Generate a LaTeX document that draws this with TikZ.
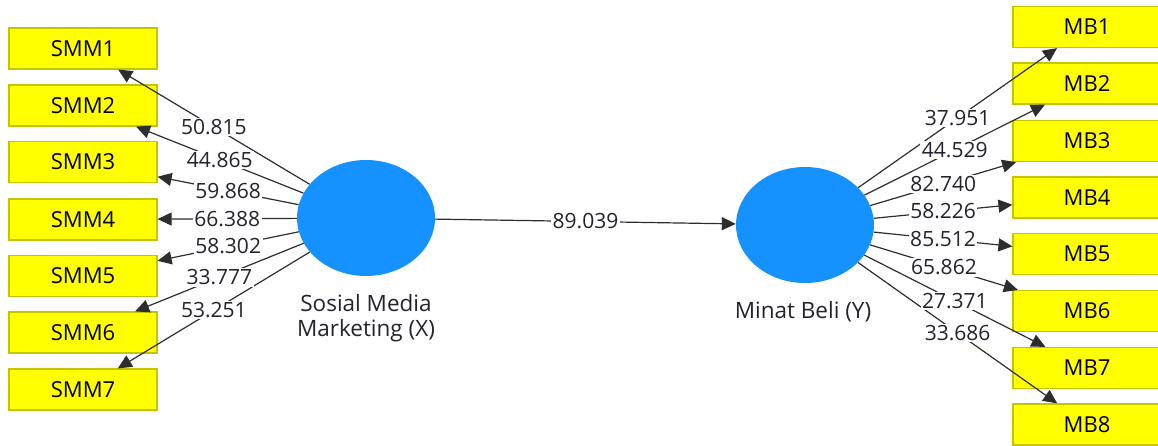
\documentclass[tikz,border=0pt]{standalone}
\usepackage{fontspec}
\setmainfont{Open Sans}
\usetikzlibrary{arrows.meta,shapes.geometric}
\definecolor{ellblue}{RGB}{22,146,255}
\definecolor{boxyellow}{RGB}{255,255,0}
\definecolor{boxedge}{RGB}{196,196,0}
\definecolor{linegray}{RGB}{45,45,45}
\definecolor{txtgray}{RGB}{35,35,45}
\begin{document}
\begin{tikzpicture}[x=1pt,y=-1pt,
  ind/.style={draw=boxedge, fill=boxyellow, line width=1.2pt, minimum width=148pt,
    minimum height=41pt, inner sep=0pt, font=\fontsize{22}{26}\selectfont},
  lv/.style={ellipse, fill=ellblue, draw=none, minimum width=138pt, minimum height=116pt, inner sep=0pt},
  link/.style={draw=linegray, line width=1.2pt, -{Triangle[length=14pt,width=13pt]}},
  num/.style={fill=white, inner sep=1.5pt, font=\fontsize{21}{25}\selectfont, text=txtgray},
  lvlabel/.style={align=center, text=txtgray, font=\fontsize{22.5}{25}\selectfont}
]
\useasboundingbox (0,0) rectangle (1158,445);

% left indicators
\node[ind] (s1) at (83,48.5) {SMM1};
\node[ind] (s2) at (83,105.5) {SMM2};
\node[ind] (s3) at (83,162) {SMM3};
\node[ind] (s4) at (83,219.5) {SMM4};
\node[ind] (s5) at (83,276) {SMM5};
\node[ind] (s6) at (83,332.5) {SMM6};
\node[ind] (s7) at (83,389.5) {SMM7};

% right indicators
\node[ind] (b1) at (1087,27) {MB1};
\node[ind] (b2) at (1087,83.5) {MB2};
\node[ind] (b3) at (1087,141) {MB3};
\node[ind] (b4) at (1087,197.5) {MB4};
\node[ind] (b5) at (1087,254) {MB5};
\node[ind] (b6) at (1087,311) {MB6};
\node[ind] (b7) at (1087,368) {MB7};
\node[ind] (b8) at (1087,424.5) {MB8};

% latent variables
\node[lv] (X) at (366,218) {};
\node[lv] (Y) at (805,225) {};
\node[lvlabel] (Xl) at (366,318) {Sosial Media\\Marketing (X)};
\node[lvlabel] (Yl) at (803,312) {Minat Beli (Y)};

% connectors
\foreach \i in {1,...,7} {
  \draw[link] (X) -- coordinate[midway] (ms\i) (s\i);
}
\foreach \i in {1,...,8} {
  \draw[link] (Y) -- coordinate[midway] (mb\i) (b\i);
}
\draw[link] (X) -- coordinate[midway] (mxy) (Y);

% labels
\node[num] (ls1) at (ms1) {50.815};
\node[num] (ls2) at (ms2) {44.865};
\node[num] (ls3) at (ms3) {59.868};
\node[num] (ls4) at (ms4) {66.388};
\node[num] (ls5) at (ms5) {58.302};
\node[num] (ls6) at (ms6) {33.777};
\node[num] (ls7) at (ms7) {53.251};
\node[num] (lb1) at (mb1) {37.951};
\node[num] (lb2) at (mb2) {44.529};
\node[num] (lb3) at (mb3) {82.740};
\node[num] (lb4) at (mb4) {58.226};
\node[num] (lb5) at (mb5) {85.512};
\node[num] (lb6) at (mb6) {65.862};
\node[num] (lb7) at (mb7) {27.371};
\node[num] (lb8) at (mb8) {33.686};
\node[num] (lxy) at (mxy) {89.039};
\end{tikzpicture}
\end{document}
